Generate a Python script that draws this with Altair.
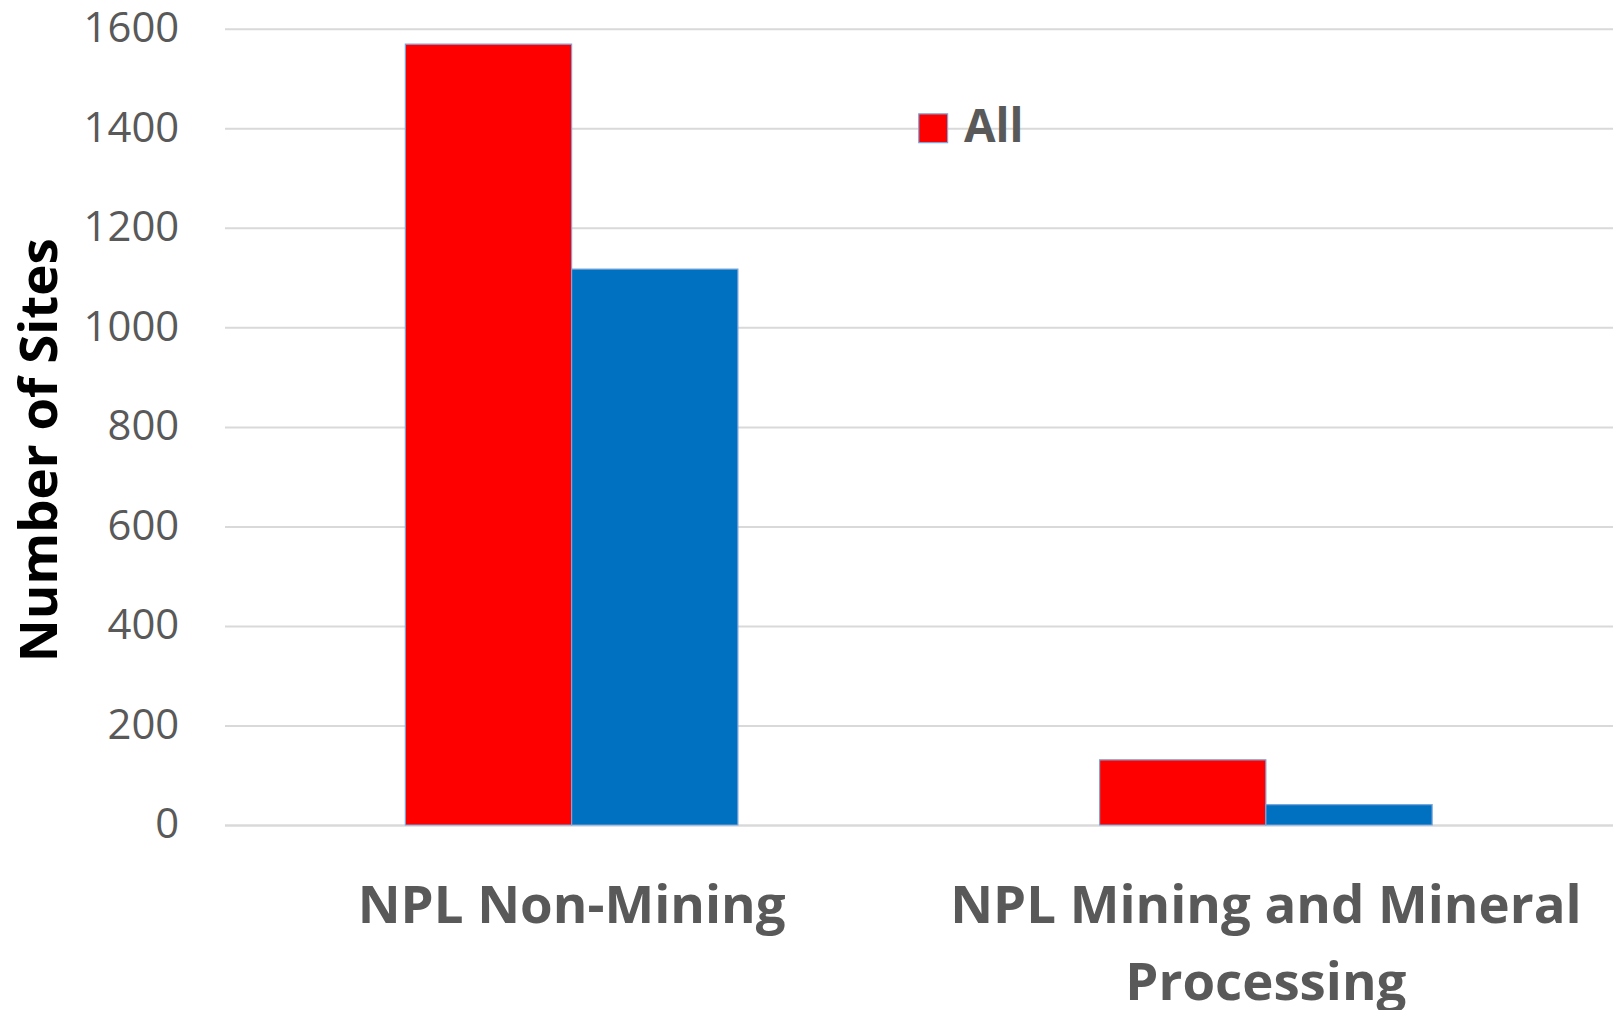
import altair as alt
import pandas as pd

categories = ["NPL Non-Mining", "NPL Mining and Mineral Processing"]
series = ["All", "Other"]
all_values = [1569, 131]
other_values = [1117, 41]
y_ticks = [0, 200, 400, 600, 800, 1000, 1200, 1400, 1600]

rows = []
for c, a, o in zip(categories, all_values, other_values):
    rows.append({"category": c, "series": "All", "value": a})
    rows.append({"category": c, "series": "Other", "value": o})
df = pd.DataFrame(rows)

label_expr = ("datum.value == 'NPL Mining and Mineral Processing' ? "
              "['NPL Mining and Mineral', 'Processing'] : datum.value")

chart = alt.Chart(df).mark_bar(stroke="#7aa6dc", strokeWidth=1.2).encode(
    x=alt.X("category:N", sort=categories, title=None,
            scale=alt.Scale(paddingInner=0.521, paddingOuter=0.2605),
            axis=alt.Axis(labelAngle=0, labelExpr=label_expr, labelFont="Open Sans",
                          labelFontWeight="bold", labelFontSize=53, labelColor="#595959",
                          labelLimit=900, labelPadding=56, labelLineHeight=77,
                          ticks=False, domainColor="#d9d9d9", domainWidth=2, grid=False)),
    xOffset=alt.XOffset("series:N", sort=series,
                        scale=alt.Scale(paddingInner=0, paddingOuter=0)),
    y=alt.Y("value:Q", title="Number of Sites",
            scale=alt.Scale(domain=[0, 1600], nice=False),
            axis=alt.Axis(values=y_ticks, format="d",
                          labelFont="Open Sans", labelFontSize=42, labelColor="#595959",
                          labelPadding=46, ticks=False, domain=False,
                          gridColor="#d9d9d9", gridWidth=2,
                          titleFont="Open Sans", titleFontWeight="bold",
                          titleFontSize=53, titleColor="#000000",
                          titleBaseline="middle", titleX=-185, titleY=423)),
    color=alt.Color("series:N", sort=series,
                    scale=alt.Scale(domain=series, range=["#ff0000", "#0070c0"]),
                    legend=alt.Legend(values=["All"], title=None, orient="none",
                                      legendX=689, legendY=77, symbolType="square",
                                      symbolSize=840, symbolStrokeColor="#7aa6dc",
                                      symbolStrokeWidth=1.2, labelOffset=8,
                                      labelFont="Open Sans", labelFontWeight="bold",
                                      labelFontSize=46, labelColor="#595959")),
).properties(
    width=1395, height=800,
    autosize=alt.AutoSizeParams(type="none"),
    padding={"left": 217.5, "top": 18.5, "right": 0, "bottom": 183.5},
).configure_view(stroke=None)

chart.save("out.html", embed_options={"renderer": "svg", "actions": False})
